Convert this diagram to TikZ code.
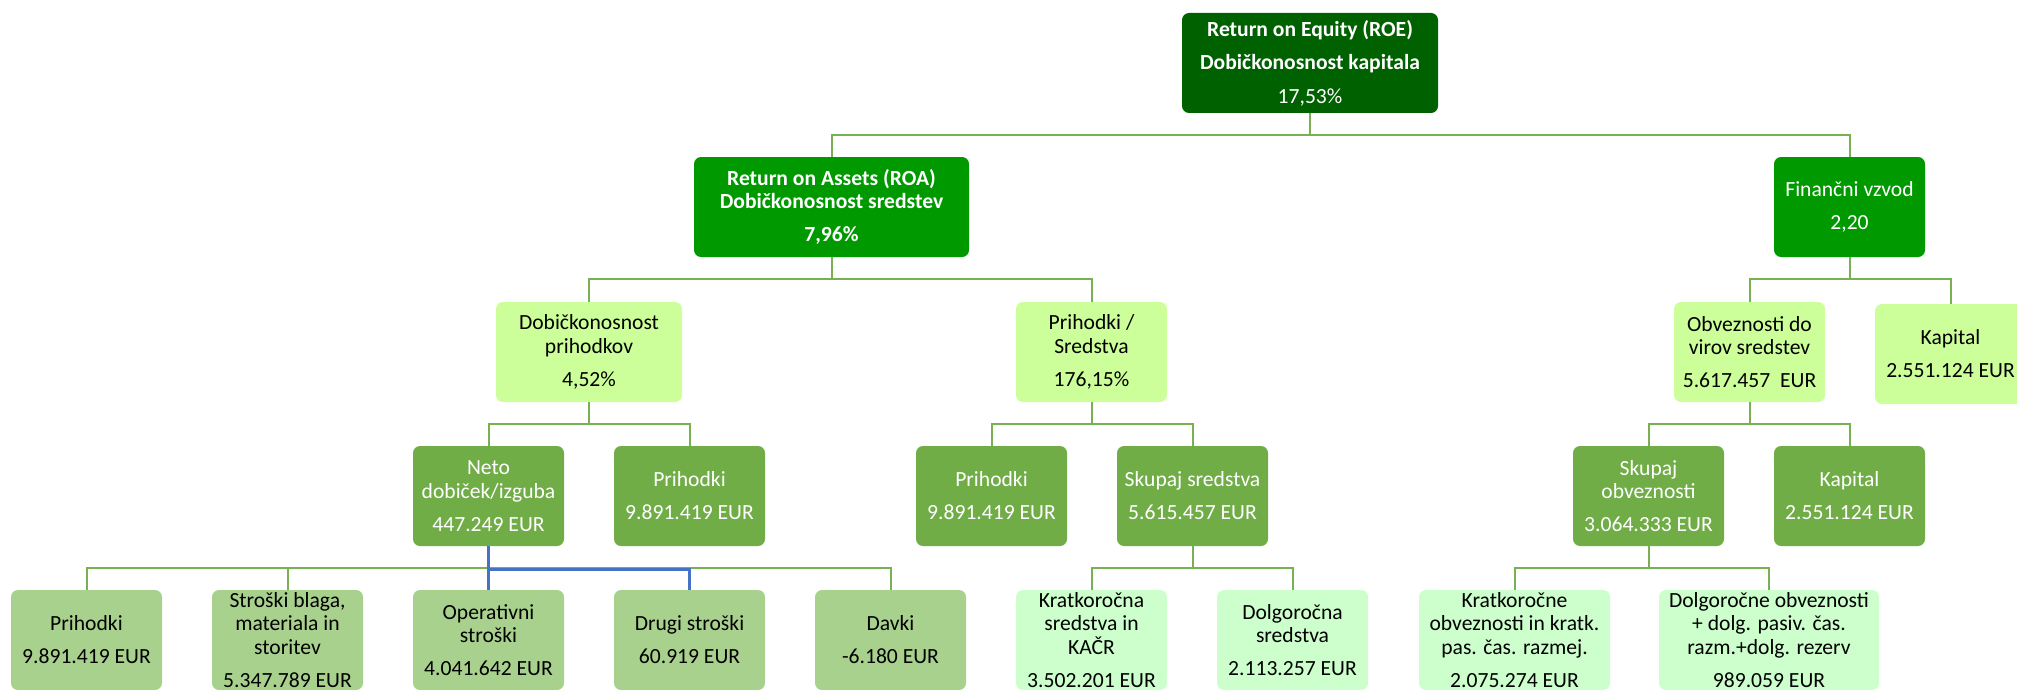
\documentclass[tikz,border=0pt]{standalone}
\usepackage{fontspec}
\setmainfont{Carlito}
\definecolor{roec}{RGB}{0,97,0}
\definecolor{roac}{RGB}{0,153,0}
\definecolor{lvltwo}{RGB}{204,255,153}
\definecolor{midg}{RGB}{112,173,71}
\definecolor{botg}{RGB}{169,209,142}
\definecolor{botl}{RGB}{204,255,204}
\definecolor{linec}{RGB}{120,178,80}
\definecolor{bluec}{RGB}{68,114,196}
\newcommand\fsz{\fontsize{10.8}{11.75}\selectfont}
\tikzset{
  box/.style={rounded corners=3.5pt, inner sep=0pt, align=center,
    minimum height=50pt, minimum width=75.5pt, font=\fsz},
  bw/.style={minimum width=#1},
  dkbox/.style={box, fill=roec, text=white},
  gbox/.style={box, fill=roac, text=white},
  lbox/.style={box, fill=lvltwo, text=black},
  mbox/.style={box, fill=midg, text=white},
  bgbox/.style={box, fill=botg, text=black},
  blbox/.style={box, fill=botl, text=black},
  conn/.style={draw=linec, line width=1pt},
  blueconn/.style={draw=bluec, line width=1.1pt},
}
\begin{document}
\begin{tikzpicture}[x=0.5pt,y=-0.5pt]
\useasboundingbox (0,0) rectangle (2017,690);

% level 0
\node[dkbox, bw=128pt] (roe) at (1310,63)
  {\textbf{Return on Equity (ROE)}\\[5pt]\textbf{Dobičkonosnost kapitala}\\[5pt]17,53\%};

% level 1
\node[gbox, bw=137.5pt] (roa) at (831.5,207)
  {\textbf{Return on Assets (ROA)}\\\textbf{Dobičkonosnost sredstev}\\[4.7pt]\textbf{7,96\%}};
\node[gbox] (fin) at (1849.5,207) {Finančni vzvod\\[4.7pt]2,20};

% level 2
\node[lbox, bw=93pt] (dobp) at (589,352) {Dobičkonosnost\\prihodkov\\[4.7pt]4,52\%};
\node[lbox] (prsr) at (1091.5,352) {Prihodki /\\Sredstva\\[4.7pt]176,15\%};
\node[lbox] (obv) at (1749.5,352) {Obveznosti do\\virov sredstev\\[4.7pt]5.617.457~~EUR};
\node[lbox] (kapa) at (1950.5,354) {Kapital\\[4.7pt]2.551.124 EUR};

% level 3
\node[mbox] (neto) at (488.5,496) {Neto\\dobiček/izguba\\[4.7pt]447.249 EUR};
\node[mbox] (priha) at (689.5,496) {Prihodki\\[4.7pt]9.891.419 EUR};
\node[mbox] (prihb) at (991.5,496) {Prihodki\\[4.7pt]9.891.419 EUR};
\node[mbox] (sksr) at (1192.5,496) {Skupaj sredstva\\[4.7pt]5.615.457 EUR};
\node[mbox] (skob) at (1648.5,496) {Skupaj\\obveznosti\\[4.7pt]3.064.333 EUR};
\node[mbox] (kapb) at (1849.5,496) {Kapital\\[4.7pt]2.551.124 EUR};

% level 4
\node[bgbox] (prihc) at (86.5,640) {Prihodki\\[4.7pt]9.891.419 EUR};
\node[bgbox] (strb) at (287.5,640) {Stroški blaga,\\materiala in\\storitev\\[4.7pt]5.347.789 EUR};
\node[bgbox] (oper) at (488.5,640) {Operativni\\stroški\\[4.7pt]4.041.642 EUR};
\node[bgbox] (drug) at (689.5,640) {Drugi stroški\\[4.7pt]60.919 EUR};
\node[bgbox] (davk) at (890.5,640) {Davki\\[4.7pt]-6.180 EUR};
\node[blbox] (krsr) at (1091.5,640) {Kratkoročna\\sredstva in\\KAČR\\[4.7pt]3.502.201 EUR};
\node[blbox] (dosr) at (1292.5,640) {Dolgoročna\\sredstva\\[4.7pt]2.113.257 EUR};
\node[blbox, bw=95.5pt] (krob) at (1514.5,640) {Kratkoročne\\obveznosti in kratk.\\pas. čas. razmej.\\[4.7pt]2.075.274 EUR};
\node[blbox, bw=110pt] (doob) at (1769,640) {Dolgoročne obveznosti\\+ dolg. pasiv. čas.\\razm.+dolg. rezerv\\[4.7pt]989.059 EUR};

% bar levels
\coordinate (ba) at (0,135);
\coordinate (bb) at (0,279);
\coordinate (bc) at (0,424);
\coordinate (bd) at (0,568);
\coordinate (be) at (0,569.5);

% connectors
\foreach \c in {roa,fin} \draw[conn] (roe.south) -- (roe.south |- ba) -| (\c.north);
\foreach \c in {dobp,prsr} \draw[conn] (roa.south) -- (roa.south |- bb) -| (\c.north);
\foreach \c in {obv,kapa} \draw[conn] (fin.south) -- (fin.south |- bb) -| (\c.north);
\foreach \c in {neto,priha} \draw[conn] (dobp.south) -- (dobp.south |- bc) -| (\c.north);
\foreach \c in {prihb,sksr} \draw[conn] (prsr.south) -- (prsr.south |- bc) -| (\c.north);
\foreach \c in {skob,kapb} \draw[conn] (obv.south) -- (obv.south |- bc) -| (\c.north);
\foreach \c in {prihc,strb,oper,drug,davk} \draw[conn] (neto.south) -- (neto.south |- bd) -| (\c.north);
\foreach \c in {krsr,dosr} \draw[conn] (sksr.south) -- (sksr.south |- bd) -| (\c.north);
\foreach \c in {krob,doob} \draw[conn] (skob.south) -- (skob.south |- bd) -| (\c.north);
% blue overlay
\draw[blueconn] (neto.south) -- (neto.south |- be) -| (drug.north);
\draw[blueconn] (neto.south |- be) -- (oper.north);
\end{tikzpicture}
\end{document}
